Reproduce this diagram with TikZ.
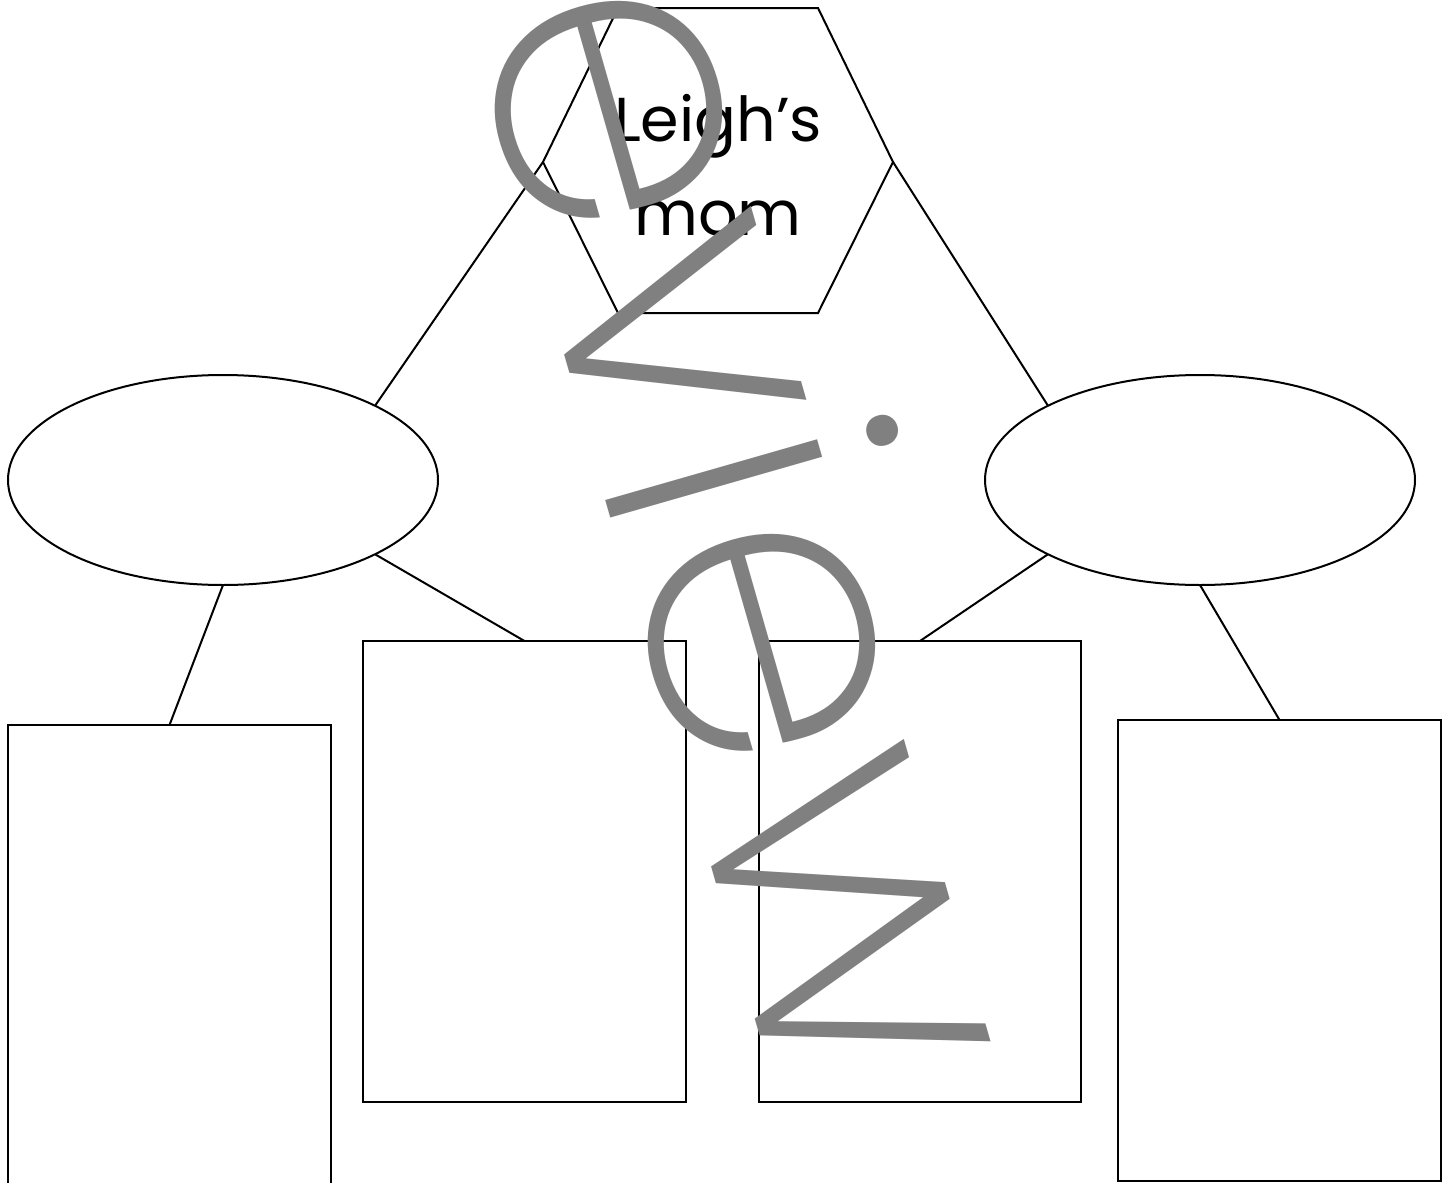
\documentclass[tikz,border=0pt]{standalone}
\usepackage{fontspec}
\setmainfont{Poppins}
\IfFontExistsTF{Poppins ExtraLight}
  {\newfontfamily\wmfont{Poppins ExtraLight}}
  {\IfFontExistsTF{Poppins Light}
     {\newfontfamily\wmfont{Poppins Light}}
     {\newfontfamily\wmfont{Poppins}}}
\usetikzlibrary{shapes.geometric}
\begin{document}
\begin{tikzpicture}[x=1pt,y=-1pt,
  line/.style={line width=2pt, black},
  box/.style={draw, line width=2pt, fill=white, rectangle, inner sep=0pt, outer sep=0pt},
  oval/.style={draw, line width=2pt, fill=white, ellipse, inner sep=0pt, outer sep=0pt,
               minimum width=430pt, minimum height=210pt},
  wmtext/.style={text=gray, inner sep=0pt, font=\wmfont\fontsize{406}{406}\selectfont},
  label/.style={inner sep=0pt, align=center, font=\fontsize{62}{94}\selectfont}
]
\path[use as bounding box] (0,0) rectangle (1448,1183);
\clip (0,0) rectangle (1448,1183);
\fill[white] (0,0) rectangle (1448,1183);

% hexagon vertices
\coordinate (hTL) at (618,8);
\coordinate (hTR) at (818,8);
\coordinate (hR)  at (893,162);
\coordinate (hBR) at (818,313);
\coordinate (hBL) at (618,313);
\coordinate (hL)  at (543,162);

% ellipses
\node[oval] (eL) at (223,480) {};
\node[oval] (eR) at (1200,480) {};

% boxes
\node[box, minimum width=323pt, minimum height=480pt] (r1) at (169.5,965) {};
\node[box, minimum width=323pt, minimum height=461pt] (r2) at (524.5,871.5) {};
\node[box, minimum width=322pt, minimum height=461pt] (r3) at (920,871.5) {};
\node[box, minimum width=323pt, minimum height=461pt] (r4) at (1279.5,950.5) {};

% connectors
\draw[line] (hL) -- (eL.north east);
\draw[line] (hR) -- (eR.north west);
\draw[line] (eL.south) -- (r1.north);
\draw[line] (eL.south east) -- (r2.north);
\draw[line] (eR.south west) -- (r3.north);
\draw[line] (eR.south) -- (r4.north);

% hexagon
\draw[line, fill=white] (hTL) -- (hTR) -- (hR) -- (hBR) -- (hBL) -- (hL) -- cycle;
\node[label] (t) at (718,165) {Leigh’s\\mom};

% watermark
\node[wmtext, anchor=base west, rotate=-74] (wm) at (367,-333) {Preview};
\end{tikzpicture}
\end{document}
